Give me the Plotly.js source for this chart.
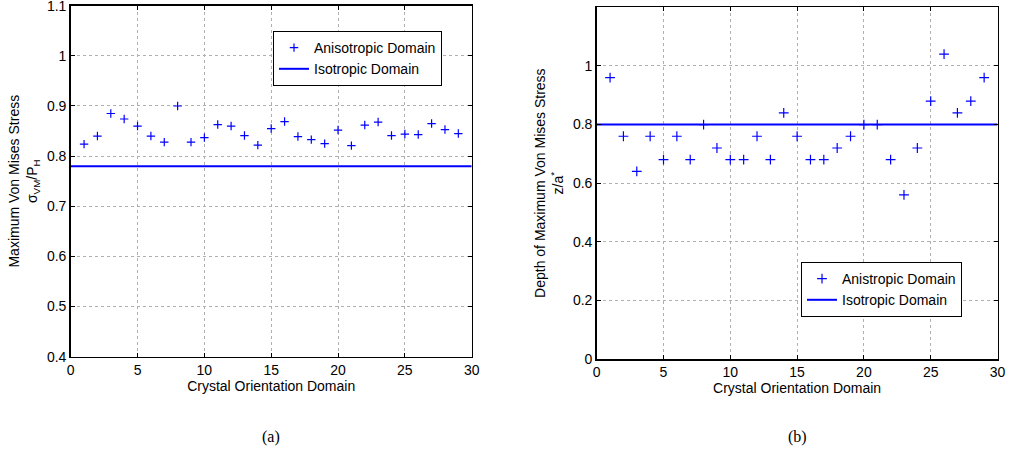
<!DOCTYPE html>
<html>
<head>
<meta charset="utf-8">
<script src="https://cdn.plot.ly/plotly-3.0.1.min.js"></script>
<style>html,body{margin:0;padding:0;background:#fff;}#chart{width:1011px;height:454px;}</style>
</head>
<body>
<div id="chart"></div>
<script>
// Data
const domains = [1,2,3,4,5,6,7,8,9,10,11,12,13,14,15,16,17,18,19,20,21,22,23,24,25,26,27,28,29];
const stressAniso = [0.824,0.840,0.885,0.874,0.860,0.840,0.828,0.900,0.828,0.837,0.863,0.860,0.841,0.822,0.855,0.869,0.839,0.833,0.825,0.852,0.821,0.862,0.868,0.841,0.844,0.843,0.865,0.853,0.845];
const depthAniso = [0.96,0.76,0.64,0.76,0.68,0.76,0.68,0.80,0.72,0.68,0.68,0.76,0.68,0.84,0.76,0.68,0.68,0.72,0.76,0.80,0.80,0.68,0.56,0.72,0.88,1.04,0.84,0.88,0.96];
const isoX = [0, 30];
const stressIso = [0.78, 0.78];
const depthIso = [0.80, 0.80];
const xTicks = [0,5,10,15,20,25,30];
const yTicksA = [0.4,0.5,0.6,0.7,0.8,0.9,1,1.1];
const yTicksB = [0,0.2,0.4,0.6,0.8,1];

const W = 1011, H = 454;
const blue = '#0000ff';
const fam = 'Arial, "Liberation Sans", Helvetica, sans-serif';
const font = {family: fam, size: 14, color: '#000'};
const titleFont = {family: fam, size: 14, color: '#000'};

const traces = [
  {x: domains, y: stressAniso, type: 'scatter', mode: 'markers', name: 'Anisotropic Domain',
   marker: {symbol: 'cross-thin-open', size: 6, color: blue, line: {color: blue, width: 1.2}},
   xaxis: 'x', yaxis: 'y', legend: 'legend'},
  {x: isoX, y: stressIso, type: 'scatter', mode: 'lines', name: 'Isotropic Domain',
   line: {color: blue, width: 2}, xaxis: 'x', yaxis: 'y', legend: 'legend'},
  {x: domains, y: depthAniso, type: 'scatter', mode: 'markers', name: 'Anistropic Domain',
   marker: {symbol: 'cross-thin-open', size: 7, color: blue, line: {color: blue, width: 1.2}},
   xaxis: 'x2', yaxis: 'y2', legend: 'legend2'},
  {x: isoX, y: depthIso, type: 'scatter', mode: 'lines', name: 'Isotropic Domain',
   line: {color: blue, width: 2}, xaxis: 'x2', yaxis: 'y2', legend: 'legend2'}
];

function xAxis(dom, anchor) {
  return {domain: dom, anchor: anchor, range: [0, 30], tickvals: xTicks, ticktext: xTicks.map(String),
    ticks: 'inside', ticklen: 4, tickcolor: '#000', mirror: 'ticks', showline: true, linecolor: '#000', linewidth: 1.5,
    showgrid: true, gridcolor: '#b0b0b0', griddash: 'dot', gridwidth: 1, zeroline: false,
    ticklabeloverflow: 'allow', ticklabelstandoff: 0,
    tickfont: font, title: {text: 'Crystal Orientation Domain', font: titleFont, standoff: 0}};
}
function yAxis(dom, anchor, range, ticks, title) {
  return {domain: dom, anchor: anchor, range: range, tickvals: ticks, ticktext: ticks.map(String),
    ticks: 'inside', ticklen: 4, tickcolor: '#000', mirror: 'ticks', showline: true, linecolor: '#000', linewidth: 1.5,
    showgrid: true, gridcolor: '#b0b0b0', griddash: 'dot', gridwidth: 1, zeroline: false,
    ticklabeloverflow: 'allow',
    tickfont: font, title: {text: title, font: titleFont, standoff: 6}};
}

const layout = {
  width: W, height: H,
  margin: {l: 0, r: 0, t: 0, b: 0},
  paper_bgcolor: '#fff', plot_bgcolor: '#fff',
  font: font,
  showlegend: true,
  xaxis: xAxis([70.7/W, 471.7/W], 'y'),
  yaxis: yAxis([(H-356.7)/H, (H-5.7)/H], 'x', [0.39999, 1.10001], yTicksA,
    'Maximum Von Mises Stress<br>σ<sub>VM</sub>/P<sub>H</sub>'),
  xaxis2: xAxis([596.7/W, 997.5/W], 'y2'),
  yaxis2: yAxis([(H-359)/H, (H-7.3)/H], 'x2', [0, 1.2], yTicksB,
    'Depth of Maximum Von Mises Stress<br>z/a<sup>*</sup>'),
  legend: {x: 273/W, y: 1-31/H, xanchor: 'left', yanchor: 'top', bgcolor: '#fff',
    bordercolor: '#000', borderwidth: 1, font: {family: fam, size: 14, color: '#000'},
    tracegroupgap: 0, itemwidth: 30},
  legend2: {x: 801/W, y: 1-262/H, xanchor: 'left', yanchor: 'top', bgcolor: '#fff',
    bordercolor: '#000', borderwidth: 1, font: {family: fam, size: 14, color: '#000'},
    tracegroupgap: 0, itemwidth: 30},
  annotations: [
    {text: '(a)', xref: 'paper', yref: 'paper', x: 271/W, y: 1-437/H, xanchor: 'center', yanchor: 'middle', showarrow: false,
     font: {family: '"Liberation Serif", "DejaVu Serif", serif', size: 16, color: '#000'}},
    {text: '(b)', xref: 'paper', yref: 'paper', x: 797/W, y: 1-437/H, xanchor: 'center', yanchor: 'middle', showarrow: false,
     font: {family: '"Liberation Serif", "DejaVu Serif", serif', size: 16, color: '#000'}}
  ]
};

Plotly.newPlot('chart', traces, layout, {staticPlot: true, displayModeBar: false});
</script>
</body>
</html>
